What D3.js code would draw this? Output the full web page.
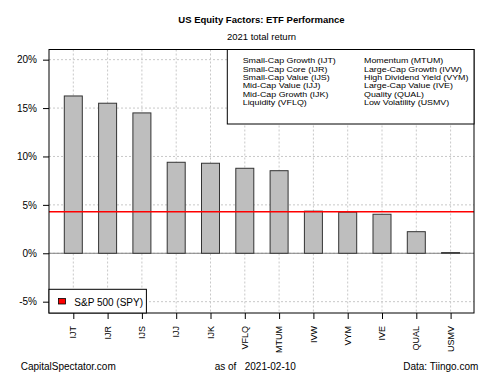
<!DOCTYPE html>
<html>
<head>
<meta charset="utf-8">
<script src="https://cdn.jsdelivr.net/npm/d3@7"></script>
<style>
  body { margin: 0; background: #fff; }
  text { font-family: "Liberation Sans", Arial, sans-serif; fill: #000; }
</style>
</head>
<body>
<div id="chart"></div>
<script>
const tickers = ["IJT", "IJR", "IJS", "IJJ", "IJK", "VFLQ", "MTUM", "IVW", "VYM", "IVE", "QUAL", "USMV"];
const returns = [16.25, 15.5, 14.5, 9.4, 9.3, 8.78, 8.53, 4.35, 4.25, 4.03, 2.23, 0.07];
const spyReturn = 4.3;
const yTicks = [-5, 0, 5, 10, 15, 20];
const legendCol1 = ["Small-Cap Growth (IJT)", "Small-Cap Core (IJR)", "Small-Cap Value (IJS)",
    "Mid-Cap Value (IJJ)", "Mid-Cap Growth (IJK)", "Liquidity (VFLQ)"];
const legendCol2 = ["Momentum (MTUM)", "Large-Cap Growth (IVW)", "High Dividend Yield (VYM)",
    "Large-Cap Value (IVE)", "Quality (QUAL)", "Low Volatility (USMV)"];

const data = tickers.map((t, i) => ({ ticker: t, value: returns[i] }));

const width = 500;
const height = 375;
const plot = { left: 49, right: 474, top: 49.5, bottom: 313 };

const svg = d3.select("#chart")
    .append("svg")
    .attr("width", width)
    .attr("height", height);

const xScale = d3.scalePoint()
    .domain(tickers)
    .range([plot.left + 24.3, plot.right - 23.4]);

const yScale = d3.scaleLinear()
    .domain([-6.17, 21.05])
    .range([plot.bottom, plot.top]);

const barWidth = 18;

// grid
svg.append("g")
    .selectAll("line")
    .data(yTicks)
    .enter()
    .append("line")
    .attr("x1", plot.left)
    .attr("x2", plot.right)
    .attr("y1", d => yScale(d))
    .attr("y2", d => yScale(d))
    .attr("stroke", "#c8c8c8")
    .attr("stroke-dasharray", "2,2");

svg.append("g")
    .selectAll("line")
    .data(tickers)
    .enter()
    .append("line")
    .attr("x1", d => xScale(d))
    .attr("x2", d => xScale(d))
    .attr("y1", plot.top)
    .attr("y2", plot.bottom)
    .attr("stroke", "#c8c8c8")
    .attr("stroke-dasharray", "2,2");

// zero line
svg.append("line")
    .attr("x1", plot.left)
    .attr("x2", plot.right)
    .attr("y1", yScale(0))
    .attr("y2", yScale(0))
    .attr("stroke", "#808080")
    .attr("stroke-width", 1);

// bars
svg.selectAll(".bar")
    .data(data)
    .enter()
    .append("rect")
    .attr("class", "bar")
    .attr("x", d => xScale(d.ticker) - barWidth / 2)
    .attr("y", d => yScale(Math.max(0, d.value)))
    .attr("width", barWidth)
    .attr("height", d => Math.abs(yScale(d.value) - yScale(0)))
    .attr("fill", "#bebebe")
    .attr("stroke", "#333")
    .attr("stroke-width", 1);

// S&P 500 line
svg.append("line")
    .attr("x1", plot.left)
    .attr("x2", plot.right)
    .attr("y1", yScale(spyReturn))
    .attr("y2", yScale(spyReturn))
    .attr("stroke", "#ff0000")
    .attr("stroke-width", 1.5);

// y axis
const yAxis = svg.append("g")
    .attr("transform", `translate(${plot.left}, 0)`)
    .call(d3.axisLeft(yScale).tickValues(yTicks).tickSize(6).tickPadding(6).tickFormat(d => d + "%"));
yAxis.select(".domain").remove();
yAxis.selectAll("text").style("font-size", "10px").style("font-family", "Liberation Sans, Arial, sans-serif").attr("fill", "#000");
yAxis.selectAll("line").attr("stroke", "#000");

// x axis ticks + rotated labels
const xAxis = svg.append("g")
    .attr("transform", `translate(0, ${plot.bottom})`)
    .call(d3.axisBottom(xScale).tickSize(6).tickFormat(""));
xAxis.select(".domain").remove();
xAxis.selectAll("line").attr("stroke", "#000");

svg.append("g")
    .selectAll("text")
    .data(tickers)
    .enter()
    .append("text")
    .attr("transform", d => `translate(${xScale(d)}, ${plot.bottom + 13}) rotate(-90)`)
    .attr("text-anchor", "end")
    .attr("dy", "0.35em")
    .style("font-size", "9px")
    .text(d => d);

// plot frame
svg.append("rect")
    .attr("x", plot.left)
    .attr("y", plot.top)
    .attr("width", plot.right - plot.left)
    .attr("height", plot.bottom - plot.top)
    .attr("fill", "none")
    .attr("stroke", "#000")
    .attr("stroke-width", 1);

// top-right legend
const legend = svg.append("g");
legend.append("rect")
    .attr("x", 227.3)
    .attr("y", plot.top)
    .attr("width", plot.right - 227.3)
    .attr("height", 124 - plot.top)
    .attr("fill", "#fff")
    .attr("stroke", "#000");

// legend text is tight in the original: small font, stretched a bit horizontally
const legendText = (list, x) => legend.append("g")
    .attr("transform", `translate(${x}, 0) scale(1.2, 1)`)
    .selectAll("text")
    .data(list)
    .enter()
    .append("text")
    .attr("x", 0)
    .attr("y", (d, i) => 63.3 + i * 8.33)
    .style("font-size", "7.4px")
    .text(d => d);

legendText(legendCol1, 242.7);
legendText(legendCol2, 364);

// bottom-left legend
const spyLegend = svg.append("g");
spyLegend.append("rect")
    .attr("x", plot.left)
    .attr("y", 289.3)
    .attr("width", 97.4)
    .attr("height", plot.bottom - 289.3)
    .attr("fill", "#fff")
    .attr("stroke", "#000");
spyLegend.append("rect")
    .attr("x", 58.5)
    .attr("y", 298.5)
    .attr("width", 7)
    .attr("height", 5.5)
    .attr("fill", "#ff0000")
    .attr("stroke", "#000")
    .attr("stroke-width", 0.8);
spyLegend.append("text")
    .attr("x", 74.3)
    .attr("y", 305.8)
    .style("font-size", "10px")
    .text("S&P 500 (SPY)");

// titles
svg.append("text")
    .attr("x", (plot.left + plot.right) / 2)
    .attr("y", 23.3)
    .attr("text-anchor", "middle")
    .style("font-size", "9.5px")
    .style("font-weight", "bold")
    .text("US Equity Factors: ETF Performance");

svg.append("text")
    .attr("x", (plot.left + plot.right) / 2)
    .attr("y", 40)
    .attr("text-anchor", "middle")
    .style("font-size", "9.5px")
    .text("2021 total return");

// footer
svg.append("text")
    .attr("x", 20.7)
    .attr("y", 370.3)
    .style("font-size", "10px")
    .text("CapitalSpectator.com");

svg.append("text")
    .attr("x", 214.7)
    .attr("y", 370.3)
    .style("font-size", "10px")
    .style("white-space", "pre")
    .attr("xml:space", "preserve")
    .text("as of   2021-02-10");

svg.append("text")
    .attr("x", 478.3)
    .attr("y", 370.3)
    .attr("text-anchor", "end")
    .style("font-size", "10px")
    .text("Data: Tiingo.com");
</script>
</body>
</html>
